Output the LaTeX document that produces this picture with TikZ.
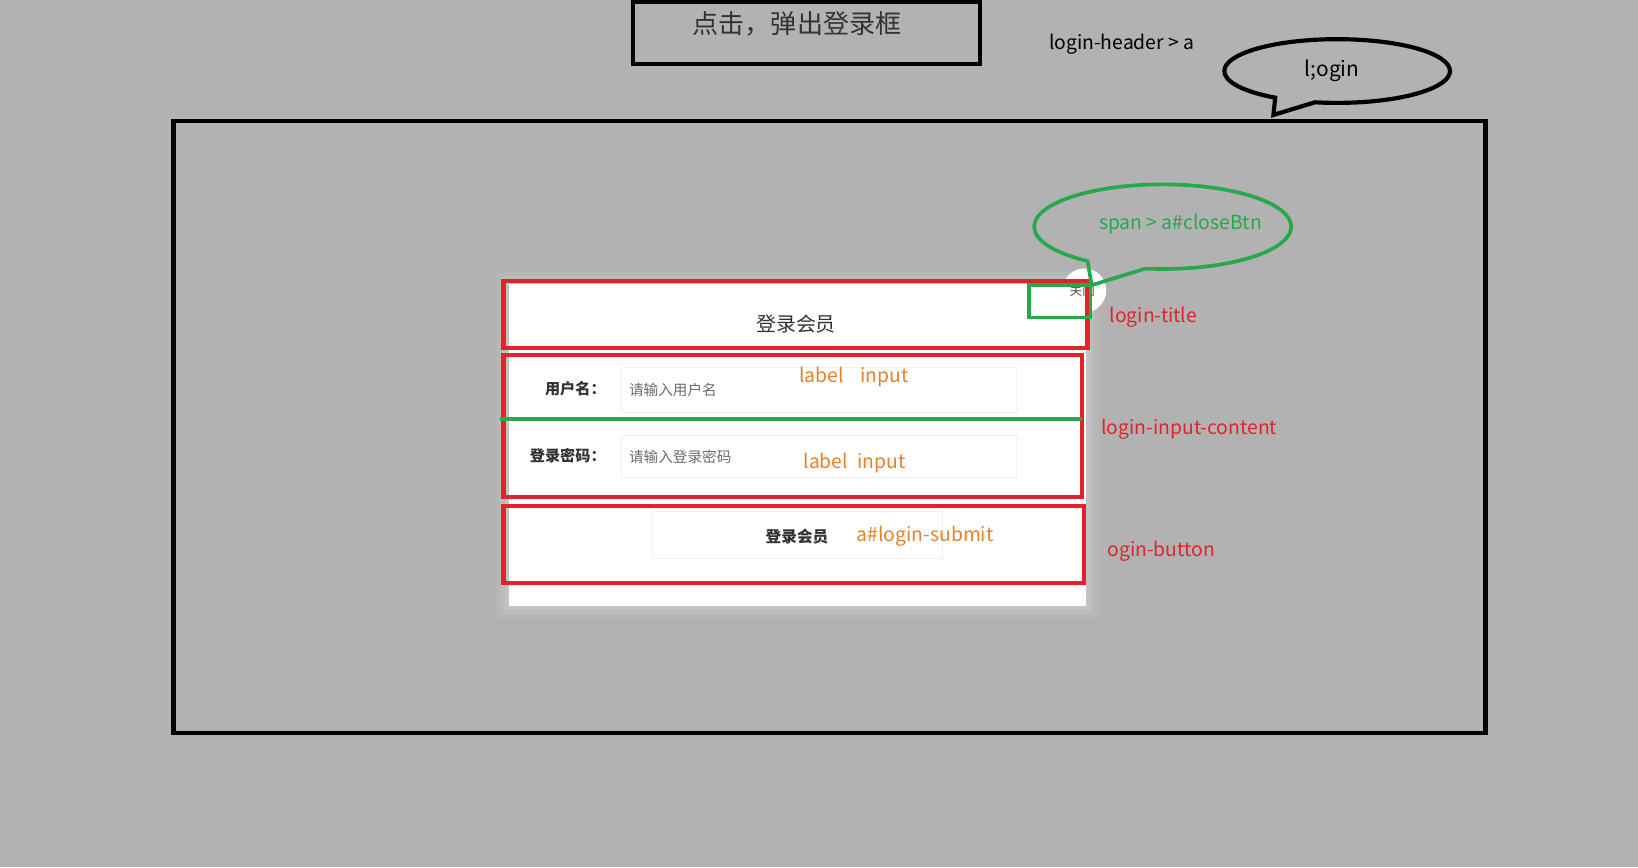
\documentclass[tikz,border=0pt]{standalone}
\usepackage{fontspec}
\setmainfont{Noto Sans CJK SC}
\usetikzlibrary{shapes.callouts}

\definecolor{pagegray}{HTML}{B2B2B2}
\definecolor{markred}{HTML}{E0242E}
\definecolor{markgreen}{HTML}{25A94A}
\definecolor{noteorange}{HTML}{E5822A}
\definecolor{inkgray}{HTML}{333333}

\begin{document}
\begin{tikzpicture}[x=1pt, y=-1pt,
  frame/.style={draw=black, line width=4pt},
  redbox/.style={draw=markred, line width=4pt},
  greenbox/.style={draw=markgreen, line width=3.5pt},
  fieldbox/.style={draw=gray!12, line width=1pt, fill=white},
  note/.style={font=\fontsize{18.5}{20}\selectfont, inner sep=0pt},
  cntext/.style={text=inkgray, inner sep=0pt}]

\useasboundingbox (0,0) rectangle (1568,830);
\fill[pagegray] (0,0) rectangle (1568,830);

% Header button and the page frame.
\draw[frame] (606,2) rectangle (938,61);
\node[cntext, font=\fontsize{25}{28}\selectfont] (clicktitle) at (763,23) {点击，弹出登录框};
\node[note, text=black, anchor=west] (headerlink) at (1004,42) {login-header > a};
\draw[frame] (166,116) rectangle (1422,702);

% Login panel with its glow.
\fill[white, opacity=0.06] (475,260) rectangle (1052,592);
\fill[white, opacity=0.08] (479,264) rectangle (1048,588);
\fill[white, opacity=0.12] (483,268) rectangle (1044,584);
\fill[white] (487,272) rectangle (1040,580);

% Close button.
\fill[white] (1038,278) circle (21);
\node[text=gray!60!black, font=\fontsize{12}{12}\selectfont, inner sep=0pt] (closetext) at (1036,278) {关闭};

% Title row.
\node[cntext, font=\fontsize{19}{20}\selectfont] (paneltitle) at (762,310) {登录会员};

% Input rows.
\draw[fieldbox] (595,352) rectangle (973,395);
\draw[fieldbox] (595,417) rectangle (973,457);
\node[cntext, font=\fontsize{14.5}{16}\selectfont\bfseries, anchor=east] (userlabel) at (580,372) {用户名：};
\node[cntext, font=\fontsize{14.5}{16}\selectfont\bfseries, anchor=east] (pwdlabel) at (580,436) {登录密码：};
\node[text=gray!85!black, font=\fontsize{14}{16}\selectfont, inner sep=0pt, anchor=west] (userhint) at (602,373) {请输入用户名};
\node[text=gray!85!black, font=\fontsize{14}{16}\selectfont, inner sep=0pt, anchor=west] (pwdhint) at (602,437) {请输入登录密码};

% Submit button.
\draw[fieldbox] (625,490) rectangle (902,535);
\node[cntext, font=\fontsize{15}{16}\selectfont\bfseries] (submittext) at (763,514) {登录会员};

% Red outlines.
\draw[redbox] (482,269) rectangle (1041,333);
\draw[redbox] (482,340) rectangle (1036,476);
\draw[redbox] (482,484) rectangle (1038,558);

% Green marks.
\draw[greenbox] (479,401) -- (1036,401);
\draw[greenbox] (985,273) rectangle (1044,304);

% Notes.
\node[note, text=noteorange, anchor=west] (userinput) at (765,361) {label\hspace{16pt}input};
\node[note, text=noteorange, anchor=west] (pwdinput) at (769,443) {label\hspace{9pt}input};
\node[note, text=noteorange, anchor=west] (submitnote) at (820,513) {a\#login-submit};
\node[note, text=markred, anchor=west] (titlenote) at (1062,304) {login-title};
\node[note, text=markred, anchor=west] (inputnote) at (1054,411) {login-input-content};
\node[note, text=markred, anchor=west] (buttonnote) at (1060,528) {ogin-button};

% Speech bubbles.
\node[ellipse callout, draw=black, line width=4pt, minimum width=216pt, minimum height=61pt,
  callout absolute pointer={(1219,110)}, callout pointer arc=22] (loginbubble) at (1280,68) {};
\node[font=\fontsize{20}{22}\selectfont, inner sep=0pt] (logintext) at (1275,68) {l;ogin};
\node[ellipse callout, draw=markgreen, line width=3.5pt, minimum width=246pt, minimum height=81pt,
  callout absolute pointer={(1045,273)}, callout pointer arc=28] (closebubble) at (1113,217) {};
\node[note, text=markgreen, anchor=west] (closenote) at (1052,214) {span > a\#closeBtn};

\end{tikzpicture}
\end{document}
